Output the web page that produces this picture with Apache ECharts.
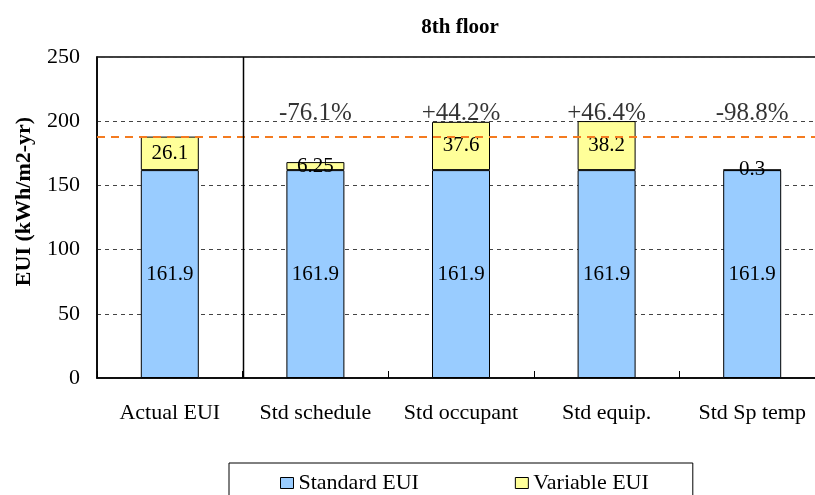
<!DOCTYPE html>
<html>
<head>
<meta charset="utf-8">
<script src="https://cdn.jsdelivr.net/npm/echarts@6/dist/echarts.min.js"></script>
<style>
  html, body { margin: 0; padding: 0; background: #fff; overflow: hidden; }
  /* the plot runs slightly past the right edge of the window */
  #chart { width: 825px; height: 495px; }
</style>
</head>
<body>
<div id="chart"></div>
<script>
// 8th floor EUI breakdown: standard part plus variable part per scenario
const categories = ['Actual EUI', 'Std schedule', 'Std occupant', 'Std equip.', 'Std Sp temp'];
const standardEUI = [161.9, 161.9, 161.9, 161.9, 161.9];
const variableEUI = [26.1, 6.25, 37.6, 38.2, 0.3];
const changeLabels = [null, '-76.1%', '+44.2%', '+46.4%', '-98.8%'];
const yTicks = [0, 50, 100, 150, 200, 250];

const FONT = '"Liberation Serif", "Times New Roman", serif';
const actualTotal = standardEUI[0] + variableEUI[0];

const chart = echarts.init(document.getElementById('chart'), null, { renderer: 'canvas' });

chart.setOption({
  animation: false,
  backgroundColor: '#fff',
  textStyle: { fontFamily: FONT, color: '#000' },
  title: {
    text: '8th floor',
    left: 455,
    top: 12,
    textAlign: 'center',
    textStyle: { fontFamily: FONT, fontSize: 21, fontWeight: 'bold', color: '#000' }
  },
  grid: {
    left: 97, top: 57, width: 728, height: 321,
    show: true, borderColor: '#000', borderWidth: 1.5, backgroundColor: 'transparent'
  },
  legend: {
    data: ['Standard EUI', 'Variable EUI'],
    left: 229,
    top: 463,
    padding: [9, 44, 20, 51],
    itemGap: 96,
    itemWidth: 13,
    itemHeight: 11,
    icon: 'rect',
    borderColor: '#000',
    borderWidth: 1,
    itemStyle: { borderColor: '#000', borderWidth: 1 },
    textStyle: { fontFamily: FONT, fontSize: 22, color: '#000' }
  },
  xAxis: {
    type: 'category',
    data: categories,
    axisLine: { lineStyle: { color: '#000', width: 1.5 } },
    axisTick: { show: true, inside: true, length: 7, interval: 0, lineStyle: { color: '#000', width: 1 } },
    axisLabel: { interval: 0, fontFamily: FONT, fontSize: 22, color: '#000', margin: 24 },
    splitLine: { show: false }
  },
  yAxis: {
    type: 'value',
    min: yTicks[0],
    max: yTicks[yTicks.length - 1],
    interval: yTicks[1] - yTicks[0],
    name: 'EUI (kWh/m2-yr)',
    nameLocation: 'middle',
    nameGap: 62,
    nameTextStyle: { fontFamily: FONT, fontSize: 22, fontWeight: 'bold', color: '#000', padding: [0, 0, 0, 32] },
    axisLine: { show: true, lineStyle: { color: '#000', width: 1.5 } },
    axisTick: { show: false },
    axisLabel: { fontFamily: FONT, fontSize: 22, color: '#000', margin: 17 },
    splitLine: { show: true, lineStyle: { color: '#444', width: 1, type: [4, 4] } }
  },
  series: [
    {
      name: 'Standard EUI',
      type: 'bar',
      stack: 'eui',
      barWidth: 58,
      data: standardEUI,
      itemStyle: { color: '#99ccff', borderColor: '#000', borderWidth: 1 },
      label: {
        show: true, position: 'inside', fontFamily: FONT, fontSize: 21, color: '#000',
        formatter: function (p) { return String(p.value); }
      },
      markLine: {
        silent: true,
        symbol: ['none', 'none'],
        label: { show: false },
        lineStyle: { color: '#f47b20', width: 2, type: [8, 6] },
        data: [{ yAxis: actualTotal }]
      }
    },
    {
      name: 'Variable EUI',
      type: 'bar',
      stack: 'eui',
      barWidth: 58,
      data: variableEUI,
      itemStyle: { color: '#ffff99', borderColor: '#000', borderWidth: 1 },
      label: {
        show: true, position: 'inside', fontFamily: FONT, fontSize: 21, color: '#000',
        formatter: function (p) { return String(p.value); }
      }
    },
    {
      name: 'change',
      type: 'scatter',
      symbolSize: 0,
      silent: true,
      z: 5,
      data: changeLabels.map(function (t, i) { return t === null ? null : [categories[i], 200]; }),
      label: {
        show: true,
        position: 'top',
        distance: 0,
        offset: [0, 5],
        fontFamily: FONT,
        fontSize: 25,
        color: '#000',
        formatter: function (p) { return changeLabels[p.dataIndex]; }
      }
    }
  ]
});

// Solid divider between the measured bar and the standardised scenarios,
// placed halfway between the first two category centres.
const c0 = chart.convertToPixel({ xAxisIndex: 0 }, categories[0]);
const c1 = chart.convertToPixel({ xAxisIndex: 0 }, categories[1]);
const yTop = chart.convertToPixel({ yAxisIndex: 0 }, yTicks[yTicks.length - 1]);
const yBottom = chart.convertToPixel({ yAxisIndex: 0 }, yTicks[0]);
const xDiv = Math.round((c0 + c1) / 2) + 0.5;
chart.setOption({
  graphic: [{
    type: 'line',
    silent: true,
    z: 10,
    shape: { x1: xDiv, y1: yTop, x2: xDiv, y2: yBottom },
    style: { stroke: '#000', lineWidth: 1.5 }
  }]
});
</script>
</body>
</html>
